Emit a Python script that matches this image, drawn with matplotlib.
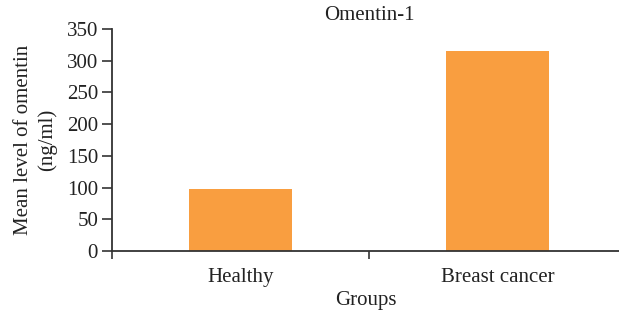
import matplotlib.pyplot as plt
import numpy as np

# Data
groups = ["Healthy", "Breast cancer"]
omentin_levels = [98, 316]
y_ticks = [0, 50, 100, 150, 200, 250, 300, 350]

plt.rcParams["font.family"] = ["Liberation Serif", "DejaVu Serif"]
fs = 15

fig = plt.figure(figsize=(6.19, 3.10), dpi=100)
ax = fig.add_axes([112 / 619, 1 - 251 / 310, 1 - 112 / 619, (251 - 29) / 310])

x = np.arange(len(groups))
ax.bar(x, omentin_levels, width=0.4, color="#F99E40", zorder=2)

# Excel-style category axis: ticks sit between the categories
ax.set_xlim(-0.5, 0.5 + (619 - 369) / 257)
ax.set_xticks([-0.5, 0.5])
ax.set_xticklabels(["", ""])
ax.set_xticks(x, minor=True)
ax.set_xticklabels(groups, minor=True, fontsize=fs, color="#222222")
ax.tick_params(axis="x", which="minor", length=0, pad=12)
ax.tick_params(axis="x", which="major", length=6, width=1.2, color="#333333")

ax.set_ylim(0, 350)
ax.set_yticks(y_ticks)
ax.tick_params(axis="y", length=7, width=1.2, color="#333333",
               labelsize=fs, labelcolor="#222222", pad=3)

for side in ["top", "right"]:
    ax.spines[side].set_visible(False)
for side in ["left", "bottom"]:
    ax.spines[side].set_color("#333333")
    ax.spines[side].set_linewidth(1.3)

ax.set_xlabel("Groups", fontsize=fs, color="#222222", labelpad=3)
ax.set_ylabel("Mean level of omentin\n(ng/ml)", fontsize=fs,
              color="#222222", labelpad=7, linespacing=1.3)
fig.text(369 / 619, 1 - 15 / 310, "Omentin-1", ha="center", va="center",
         fontsize=fs, color="#222222")

fig.savefig("out.png", dpi=100)
